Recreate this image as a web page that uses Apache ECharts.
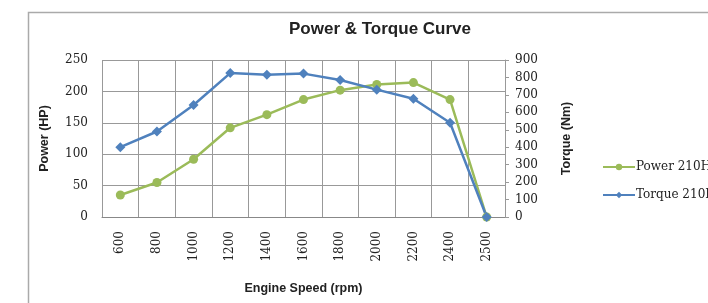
<!DOCTYPE html>
<html>
<head>
<meta charset="utf-8">
<script src="https://cdn.jsdelivr.net/npm/echarts@6/dist/echarts.min.js"></script>
<style>
  html, body { margin: 0; padding: 0; background: #fff; }
  #chart { width: 708px; height: 303px; }
</style>
</head>
<body>
<div id="chart"></div>
<script>
// 转速 (rpm)
var speeds = ["600", "800", "1000", "1200", "1400", "1600", "1800", "2000", "2200", "2400", "2500"];
// 功率 (HP)
var powerHP = [35, 55, 92, 142, 163, 187, 202, 211, 214, 187, 0];
// 扭矩 (Nm)
var torqueNm = [400, 490, 642, 825, 815, 822, 785, 730, 678, 540, 0];

var chart = echarts.init(document.getElementById("chart"));

var labelFont = {
  color: "#222",
  fontSize: 12,
  fontFamily: "DejaVu Serif"
};
var nameFont = {
  fontSize: 12.5,
  fontWeight: "bold",
  color: "#222",
  fontFamily: "Liberation Sans"
};

chart.setOption({
  animation: false,
  title: {
    text: "Power & Torque Curve",
    left: 375,
    top: 16,
    textAlign: "center",
    textStyle: {
      fontSize: 17,
      fontWeight: "bold",
      color: "#222",
      fontFamily: "Liberation Sans"
    }
  },
  graphic: [
    {
      type: "rect",
      shape: { x: 28.5, y: 12.5, width: 700, height: 320 },
      style: { fill: "none", stroke: "#aaa", lineWidth: 1.5 }
    }
  ],
  legend: {
    orient: "vertical",
    left: 597,
    top: 156,
    itemGap: 16,
    itemWidth: 32,
    itemHeight: 8,
    textStyle: { fontSize: 12, color: "#222", fontFamily: "DejaVu Serif", padding: [0, 0, 0, -4] },
    data: ["Power 210HP", "Torque 210HP"]
  },
  grid: {
    left: 102,
    right: 203,
    top: 60,
    bottom: 86
  },
  xAxis: {
    type: "category",
    data: speeds,
    name: "Engine Speed (rpm)",
    nameLocation: "middle",
    nameGap: 65,
    nameTextStyle: nameFont,
    axisLabel: Object.assign({ rotate: 90, margin: 14, interval: 0 }, labelFont),
    axisTick: { show: false },
    axisLine: { lineStyle: { color: "#888" } },
    splitLine: { show: true, interval: 0, lineStyle: { color: "#999", width: 1 } }
  },
  yAxis: [
    {
      type: "value",
      min: 0,
      max: 250,
      interval: 50,
      name: "Power (HP)",
      nameLocation: "middle",
      nameRotate: 90,
      nameGap: 51,
      nameTextStyle: nameFont,
      axisLabel: Object.assign({ margin: 14 }, labelFont),
      axisLine: { show: false },
      axisTick: { show: false },
      splitLine: { lineStyle: { color: "#999", width: 1 } }
    },
    {
      type: "value",
      min: 0,
      max: 900,
      interval: 100,
      name: "Torque (Nm)",
      nameLocation: "middle",
      nameRotate: 90,
      nameGap: 55,
      nameTextStyle: nameFont,
      axisLabel: Object.assign({ margin: 10 }, labelFont),
      axisLine: { show: true, lineStyle: { color: "#999" } },
      axisTick: { show: true, length: 4, lineStyle: { color: "#999" } },
      splitLine: { show: false }
    }
  ],
  series: [
    {
      name: "Power 210HP",
      type: "line",
      yAxisIndex: 0,
      data: powerHP,
      symbol: "circle",
      symbolSize: 9,
      color: "#9BBB59",
      lineStyle: { width: 2.5 }
    },
    {
      name: "Torque 210HP",
      type: "line",
      yAxisIndex: 1,
      data: torqueNm,
      symbol: "diamond",
      symbolSize: 10,
      color: "#4F81BD",
      lineStyle: { width: 2.5 }
    }
  ]
});
</script>
</body>
</html>
